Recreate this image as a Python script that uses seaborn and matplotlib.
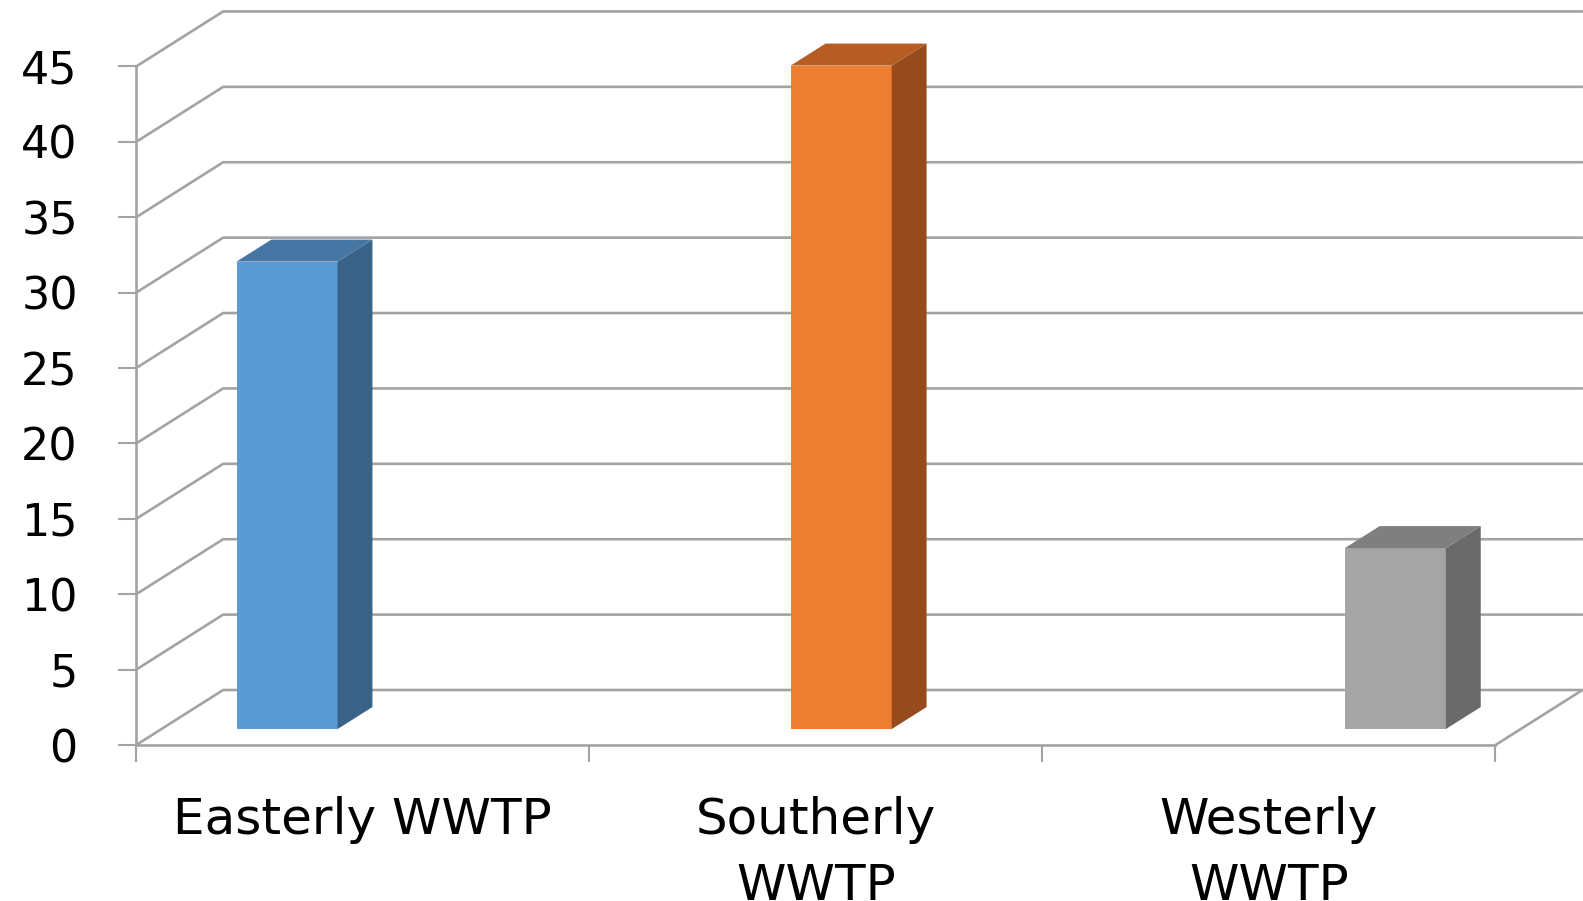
import pandas as pd
import seaborn as sns
import matplotlib.pyplot as plt
from matplotlib.patches import Polygon

plants = ["Easterly WWTP", "Southerly WWTP", "Westerly WWTP"]
tick_labels = ["Easterly WWTP", "Southerly\nWWTP", "Westerly\nWWTP"]
values = [31, 44, 12]
front_colors = ["#5B9BD5", "#ED7D31", "#A5A5A5"]
top_colors = ["#4676A4", "#B55D23", "#7F7F7F"]
side_colors = ["#386288", "#974B1D", "#6A6A6A"]
y_ticks = list(range(0, 50, 5))

df = pd.DataFrame({"plant": plants, "value": values, "series": plants})

sns.set_style("white")
plt.rcParams["font.family"] = ["DejaVu Sans"]

fig = plt.figure(figsize=(15.83, 9.01), dpi=100)
ax = fig.add_axes([0.0860, 0.1731, 0.8587, 0.7531])

# depth offsets in data units: back wall, bar front plane, bar depth
back_dx, back_dy = 0.192, 3.65
plane_dx, plane_dy = 0.056, 1.06
bar_dx, bar_dy = 0.077, 1.46

grid = "#a3a3a3"
for v in y_ticks:
    ax.plot([-0.5, -0.5 + back_dx, 2.5 + back_dx], [v, v + back_dy, v + back_dy],
            color=grid, lw=1.9, zorder=1, clip_on=False)
ax.plot([2.5, 2.5 + back_dx], [0, back_dy], color=grid, lw=1.9, zorder=1, clip_on=False)

sns.barplot(data=df, x="plant", y="value", hue="series", order=plants, hue_order=plants,
            palette=front_colors, saturation=1, width=0.669, dodge=True, legend=False,
            ax=ax, zorder=3)

bars = sorted([p for p in ax.patches if p.get_height() > 0], key=lambda p: p.get_x())
for bar, top_c, side_c in zip(bars, top_colors, side_colors):
    x0 = bar.get_x() + plane_dx
    w = bar.get_width()
    h = bar.get_height()
    y0 = plane_dy
    bar.set_x(x0)
    bar.set_y(y0)
    bar.set_clip_on(False)
    bar.set_edgecolor("none")
    x1, y1 = x0 + w, y0 + h
    ax.add_patch(Polygon([(x1, y0), (x1 + bar_dx, y0 + bar_dy), (x1 + bar_dx, y1 + bar_dy), (x1, y1)],
                         closed=True, facecolor=side_c, edgecolor="none", zorder=3, clip_on=False))
    ax.add_patch(Polygon([(x0, y1), (x0 + bar_dx, y1 + bar_dy), (x1 + bar_dx, y1 + bar_dy), (x1, y1)],
                         closed=True, facecolor=top_c, edgecolor="none", zorder=3, clip_on=False))

ax.set_xlim(-0.5, 2.5)
ax.set_ylim(0, 45)
ax.set_xlabel("")
ax.set_ylabel("")
sns.despine(ax=ax)
for s in ["left", "bottom"]:
    ax.spines[s].set_color(grid)
    ax.spines[s].set_linewidth(1.9)

ax.set_xticks([-0.5, 0.5, 1.5, 2.5])
ax.set_xticklabels([])
ax.set_xticks([0, 1, 2], minor=True)
ax.set_xticklabels(tick_labels, minor=True, fontsize=36, linespacing=1.45)
ax.tick_params(axis="x", which="major", bottom=True, length=12, width=1.5, color=grid)
ax.tick_params(axis="x", which="minor", bottom=True, length=0, pad=37, labelcolor="black")
ax.set_yticks(y_ticks)
ax.tick_params(axis="y", left=True, length=13, width=1.5, color=grid, pad=29, labelsize=32,
               labelcolor="black")

fig.savefig("out.png", dpi=100, facecolor="white")
